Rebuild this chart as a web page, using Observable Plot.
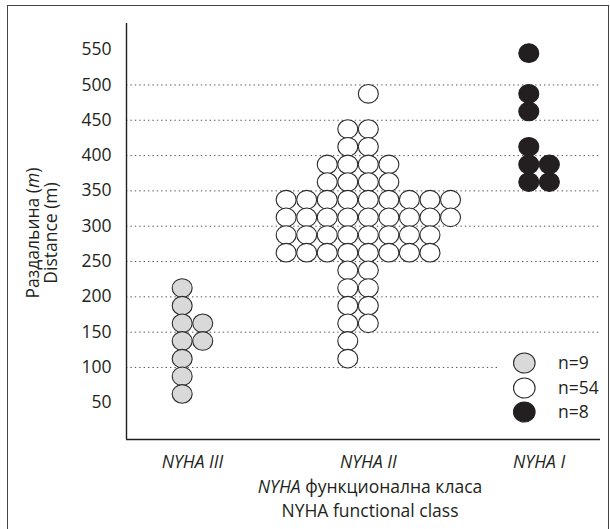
<!DOCTYPE html>
<html><head><meta charset="utf-8">
<script src="https://cdn.jsdelivr.net/npm/d3@7"></script>
<script src="https://cdn.jsdelivr.net/npm/@observablehq/plot@0.6"></script>
<style>
body{margin:0;background:#fff;}
#wrap{position:relative;width:610px;height:529px;overflow:hidden;font-family:"Open Sans",sans-serif;}
#frame{position:absolute;left:7px;top:5px;width:600px;height:560px;border:1px solid #444;pointer-events:none;}
svg{display:block;}
</style></head><body><div id="wrap"><div id="frame"></div></div>
<script>
// ---- data ----
const classes = ["NYHA III", "NYHA II", "NYHA I"];
const nyhaIIIDist  = [212.5, 187.5, 162.5, 137.5, 112.5, 87.5, 62.5];
const nyhaIIICount = [1, 1, 2, 2, 1, 1, 1];
const nyhaIIDist   = [487.5, 437.5, 412.5, 387.5, 362.5, 337.5, 312.5, 287.5, 262.5, 237.5, 212.5, 187.5, 162.5, 137.5, 112.5];
const nyhaIICount  = [1, 2, 2, 4, 4, 9, 9, 8, 8, 2, 2, 2, 2, 1, 1];
const nyhaIDist    = [545, 487.5, 462.5, 412.5, 387.5, 362.5];
const nyhaICount   = [1, 1, 1, 1, 2, 2];
const legendLabels = ["n=9", "n=54", "n=8"];
const yTicks = [50, 100, 150, 200, 250, 300, 350, 400, 450, 500, 550];
const gridFull = [150, 200, 250, 300, 350, 400, 450, 500];
const gridShort = [100];

// ---- layout (stack arrangement) ----
const rowStartCol = [
  [0, 0, 0, 0, 0, 0, 0],
  [4, 3, 3, 2, 2, 0, 0, 0, 0, 3, 3, 3, 3, 3, 3],
  [0, 0, 0, 0, 0, 0]
];
const groupBase = [2.71, 7.77, 19.58];
const groupSpan = [2, 9, 2];
const fills = ["#d9d9d9", "#ffffff", "#231f20"];
const strokes = ["#2b2b2b", "#2b2b2b", "#231f20"];

const groups = [[nyhaIIIDist, nyhaIIICount], [nyhaIIDist, nyhaIICount], [nyhaIDist, nyhaICount]];
const points = [];
groups.forEach(([dist, cnt], g) => {
  dist.forEach((v, i) => {
    for (let k = 0; k < cnt[i]; k++) {
      points.push({cls: classes[g], g, distance: v, col: groupBase[g] + rowStartCol[g][i] + k});
    }
  });
});
const centers = groupBase.map((b, g) => b + (groupSpan[g] - 1) / 2);

const ELL = 0.93;
const ellipse = {
  draw(ctx, size) {
    const rx = Math.sqrt(size / Math.PI), ry = rx * ELL, c = 0.5523;
    ctx.moveTo(rx, 0);
    ctx.bezierCurveTo(rx, ry * c, rx * c, ry, 0, ry);
    ctx.bezierCurveTo(-rx * c, ry, -rx, ry * c, -rx, 0);
    ctx.bezierCurveTo(-rx, -ry * c, -rx * c, -ry, 0, -ry);
    ctx.bezierCurveTo(rx * c, -ry, rx, -ry * c, rx, 0);
    ctx.closePath();
  }
};

const yDomain = [-2, 587];
const xDomain = [0, 23.07];
const font = '"Open Sans", sans-serif';
const FS = 17.5;

const chart = Plot.plot({
  width: 610, height: 529,
  marginTop: 23, marginBottom: 90, marginLeft: 126, marginRight: 10,
  style: {fontFamily: font, fontSize: FS + "px", color: "#231f20", background: "transparent"},
  x: {domain: xDomain},
  y: {domain: yDomain},
  marks: [
    Plot.ruleY(gridFull, {stroke: "#555", strokeWidth: 1, strokeDasharray: "1.4 3"}),
    Plot.ruleY(gridShort, {x1: xDomain[0], x2: 18.2, stroke: "#555", strokeWidth: 1, strokeDasharray: "1.4 3"}),
    Plot.dot(points, {x: "col", y: "distance", r: 10, symbol: ellipse,
      fill: d => fills[d.g], stroke: d => strokes[d.g], strokeWidth: 1.1}),
    Plot.ruleX([xDomain[0]], {stroke: "#231f20", strokeWidth: 1.4}),
    Plot.ruleY([yDomain[0]], {stroke: "#231f20", strokeWidth: 1.4}),
    Plot.axisY(yTicks, {tickSize: 0, tickPadding: 15, label: null, fontSize: FS}),
    Plot.axisX(centers, {tickSize: 0, tickPadding: 16, label: null, fontSize: FS, fontStyle: "italic",
      tickFormat: d => classes[centers.indexOf(d)]})
  ]
});
document.getElementById("wrap").prepend(chart);

const svg = d3.select(chart);
svg.selectAll('g[aria-label="x-axis tick label"] text').style("font-style", "italic");

// y title
const yt = svg.append("g").attr("fill", "#231f20").style("font-family", font).style("font-size", FS + "px");
const t1 = yt.append("text").attr("text-anchor", "middle").attr("transform", "translate(39,233) rotate(-90)");
t1.append("tspan").text("Раздальина (");
t1.append("tspan").style("font-style", "italic").text("m");
t1.append("tspan").text(")");
yt.append("text").attr("text-anchor", "middle").attr("transform", "translate(57,233) rotate(-90)").text("Distance (m)");

// x title
const xt = svg.append("g").attr("fill", "#231f20").style("font-family", font).style("font-size", FS + "px");
const x1 = xt.append("text").attr("text-anchor", "middle").attr("x", 370).attr("y", 493);
x1.append("tspan").style("font-style", "italic").text("NYHA");
x1.append("tspan").text(" функционална класа");
xt.append("text").attr("text-anchor", "middle").attr("x", 370).attr("y", 517).text("NYHA functional class");

// legend
const lg = svg.append("g").style("font-family", font).style("font-size", FS + "px");
const ly = [363, 388, 412];
legendLabels.forEach((lab, i) => {
  lg.append("ellipse").attr("cx", 524.3).attr("cy", ly[i]).attr("rx", 10.8).attr("ry", 10)
    .attr("fill", fills[i]).attr("stroke", strokes[i]).attr("stroke-width", 1.1);
  lg.append("text").attr("x", 558).attr("y", ly[i]).attr("dy", "0.35em").attr("text-anchor", "start")
    .attr("fill", "#231f20").text(lab);
});
</script></body></html>
